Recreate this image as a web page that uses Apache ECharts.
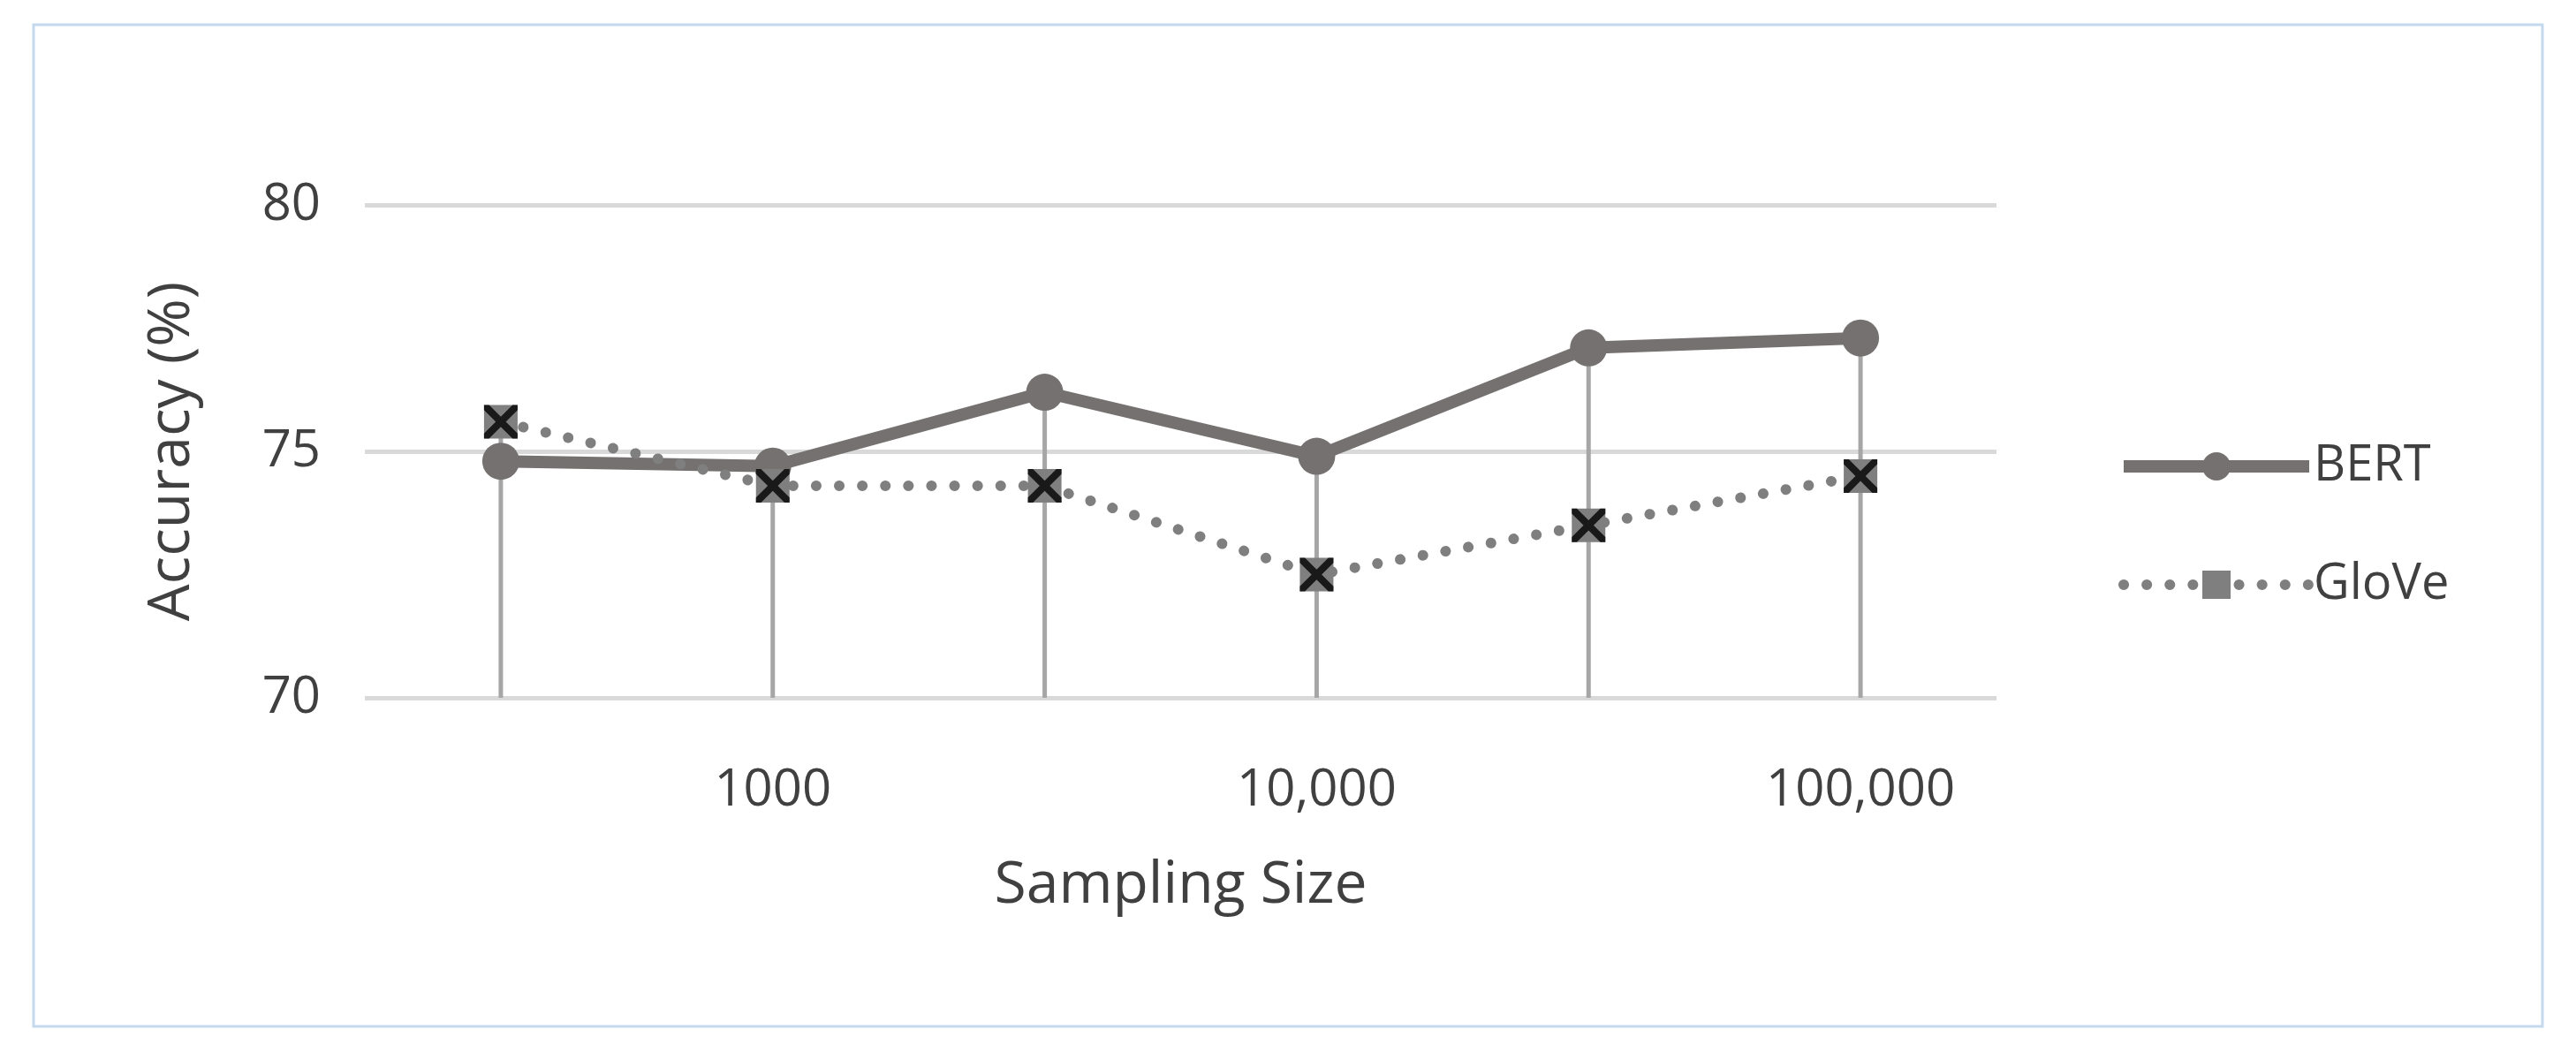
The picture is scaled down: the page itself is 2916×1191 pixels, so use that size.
<!DOCTYPE html>
<html><head><meta charset="utf-8">
<script src="https://cdn.jsdelivr.net/npm/echarts@6/dist/echarts.min.js"></script>
<style>html,body{margin:0;background:#fff}#c{width:2916px;height:1191px}</style>
</head><body><div id="c"></div>
<script>
var sizes = ['300', '1000', '3000', '10,000', '30,000', '100,000'];
var shownLabels = ['', '1000', '', '10,000', '', '100,000'];
var bert = [74.8, 74.7, 76.2, 74.9, 77.1, 77.3];
var glove = [75.6, 74.3, 74.3, 72.5, 73.5, 74.5];
var drops = bert.map(function (v, i) { return Math.max(v, glove[i]); });

var font = '"Open Sans", "Liberation Sans", sans-serif';
var xPath = 'path://M0,0 L3,0 L10,7 L17,0 L20,0 L20,3 L13,10 L20,17 L20,20 L17,20 L10,13 L3,20 L0,20 L0,17 L7,10 L0,3 Z';

var chart = echarts.init(document.getElementById('c'));
chart.setOption({
    backgroundColor: '#fff',
    animation: false,
    textStyle: { fontFamily: font, color: '#404040' },
    graphic: [{
        type: 'rect', shape: { x: 38, y: 28, width: 2840, height: 1134 },
        style: { fill: 'none', stroke: '#c5d9ee', lineWidth: 3 }
    }],
    grid: { left: 413, right: 656, top: 232, bottom: 401 },
    legend: {
        orient: 'vertical', left: 2392, top: 495, itemGap: 78,
        itemWidth: 210, itemHeight: 40,
        textStyle: { fontSize: 56, color: '#404040', fontFamily: font },
        data: [
            { name: 'BERT', lineStyle: { width: 14 } },
            { name: 'GloVe', lineStyle: { width: 12 } }
        ]
    },
    xAxis: {
        type: 'category', data: sizes,
        name: 'Sampling Size', nameLocation: 'middle', nameGap: 180,
        nameTextStyle: { fontSize: 66, color: '#404040' },
        axisLine: { show: false }, axisTick: { show: false },
        axisLabel: {
            fontSize: 58, color: '#404040', margin: 76, interval: 0,
            formatter: function (v, i) { return shownLabels[i]; }
        }
    },
    yAxis: {
        type: 'value', min: 70, max: 80, interval: 5,
        name: 'Accuracy (%)', nameLocation: 'middle', nameGap: 185,
        nameTextStyle: { fontSize: 66, color: '#404040' },
        axisLine: { show: false }, axisTick: { show: false },
        axisLabel: { fontSize: 58, color: '#404040', margin: 50 },
        splitLine: { lineStyle: { color: '#d9d9d9', width: 5 } }
    },
    series: [{
        name: 'drop', type: 'bar', data: drops, barWidth: 5, silent: true,
        itemStyle: { color: '#a6a6a6' }, z: 1
    }, {
        name: 'BERT', type: 'line', data: bert,
        symbol: 'circle', symbolSize: 42,
        lineStyle: { color: '#767171', width: 14 },
        itemStyle: { color: '#767171' }, z: 3
    }, {
        name: 'GloVe', type: 'line', data: glove,
        symbol: 'rect', symbolSize: 38,
        lineStyle: { color: '#7f7f7f', width: 12, type: [0.1, 26], cap: 'round' },
        itemStyle: { color: '#7f7f7f' }, z: 4
    }, {
        name: 'gloveX', type: 'scatter', data: glove,
        symbol: xPath, symbolSize: 38, silent: true,
        itemStyle: { color: '#000' }, z: 5
    }]
});
</script></body></html>
